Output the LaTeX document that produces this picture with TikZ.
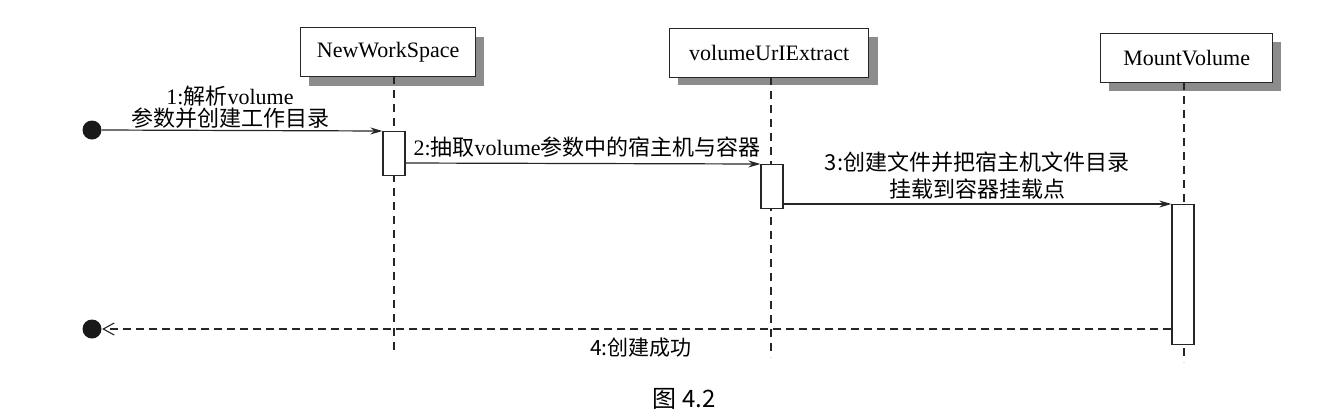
\documentclass[tikz,border=0pt]{standalone}
\usepackage{fontspec}
\setmainfont{Liberation Serif}
\newfontfamily\cjk{Noto Sans CJK SC}
\usetikzlibrary{arrows.meta}
\begin{document}
\begin{tikzpicture}[x=1pt,y=-1pt,
  line width=1.2pt, draw=black!85,
  headbox/.style={draw=black!85, line width=1.3pt, fill=white, inner sep=0pt, anchor=north west, font=\fontsize{22}{24}\selectfont},
  shadowbox/.style={fill=black!45, draw=none},
  lifeline/.style={draw=black!85, line width=1.3pt, dash pattern=on 8pt off 6pt},
  actbox/.style={draw=black!85, line width=1.3pt, fill=white, inner sep=0pt, minimum width=22pt, anchor=north},
  msg/.style={draw=black!85, line width=1.2pt, -{Stealth[length=12pt,width=7pt]}},
  ret/.style={draw=black!85, line width=1.2pt, dash pattern=on 8pt off 5pt, -{Straight Barb[length=11pt,width=12pt,line width=1.1pt]}},
  lbl/.style={font=\fontsize{22}{23}\selectfont, align=center, inner sep=0pt},
  enddot/.style={circle, fill=black!90, draw=none, minimum size=19pt, inner sep=0pt}
]
\useasboundingbox (0,0) rectangle (1341,416);

% shadows
\fill[shadowbox] (309,37) rectangle (484,86);
\fill[shadowbox] (678,37) rectangle (878,85);
\fill[shadowbox] (1109,42) rectangle (1281,91);

% heads
\node[headbox, minimum width=175pt, minimum height=49pt] (nws) at (300,27) {NewWorkSpace};
\node[headbox, minimum width=199pt, minimum height=49pt] (vue) at (669,28) {volumeUrIExtract};
\node[headbox, minimum width=172pt, minimum height=49pt] (mv) at (1100,33) {MountVolume};

% lifeline ends
\coordinate (nwsT) at (394,76);
\coordinate (nwsB) at (394,355);
\coordinate (vueT) at (771,77);
\coordinate (vueB) at (771,357);
\coordinate (mvT) at (1184,82);
\coordinate (mvB) at (1184,362);
\draw[lifeline] (nwsT) -- (nwsB);
\draw[lifeline] (vueT) -- (vueB);
\draw[lifeline] (mvT) -- (mvB);

% activation boxes
\node[actbox, minimum height=44pt] (a1) at (394,131) {};
\node[actbox, minimum height=44pt] (a2) at (772,164) {};
\node[actbox, minimum height=140pt] (a3) at (1183,204) {};

% start / end dots
\node[enddot] (d1) at (92,130) {};
\node[enddot] (d2) at (92,329) {};

% messages
\draw[msg] (d1.east) -- (a1.north west);
\draw[msg] (a1.east |- 0,163) coordinate (m2s) -- (a2.north west);
\draw[msg] (a2.east |- 0,204) coordinate (m3s) -- (a3.north west);
\draw[ret] (a3.west |- 0,329) coordinate (m4s) -- (d2.east);

% labels
\node[lbl] (l1a) at (230,96) {1:{\cjk 解析}volume};
\node[lbl] (l1b) at (230,118) {{\cjk 参数并创建工作目录}};
\node[lbl, anchor=west] (l2) at (413,147) {2:{\cjk 抽取}volume{\cjk 参数中的宿主机与容器}};
\node[lbl] (l3a) at (977,162) {{\cjk 3:创建文件并把宿主机文件目录}};
\node[lbl] (l3b) at (977,189) {{\cjk 挂载到容器挂载点}};
\node[lbl, font=\fontsize{21}{22}\selectfont] (l4) at (641,348) {{\cjk 4:创建成功}};
\node[lbl, font=\fontsize{24}{26}\selectfont] (cap) at (684,399) {{\cjk 图 4.2}};
\end{tikzpicture}
\end{document}
